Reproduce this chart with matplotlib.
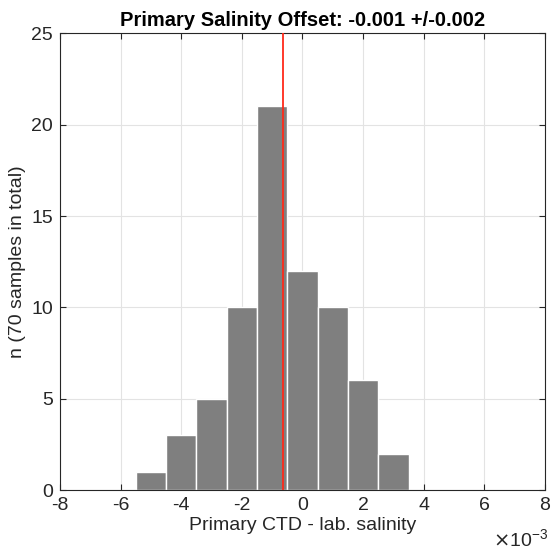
import matplotlib
matplotlib.use("Agg")
import matplotlib.pyplot as plt

plt.rcParams["font.family"] = ["Liberation Sans", "DejaVu Sans"]
plt.rcParams["axes.unicode_minus"] = False

# histogram bins (x 1e-3) and counts
bin_edges = [-5.5, -4.5, -3.5, -2.5, -1.5, -0.5, 0.5, 1.5, 2.5, 3.5]
counts = [1, 3, 5, 10, 21, 12, 10, 6, 2]
offset = -0.64  # mean offset, x 1e-3

fig = plt.figure(figsize=(5.55, 5.55), dpi=100)
ax = fig.add_axes([0.108, 0.117, 0.874, 0.823])

lefts = bin_edges[:-1]
widths = [b - a for a, b in zip(bin_edges[:-1], bin_edges[1:])]
ax.bar(lefts, counts, width=widths, align="edge", color="#7f7f7f",
       edgecolor="white", linewidth=1.0, zorder=2)
ax.axvline(offset, color="#ff2a1a", linewidth=1.3, zorder=3)

ax.set_xlim(-8, 8)
ax.set_ylim(0, 25)
ax.set_xticks(range(-8, 9, 2))
ax.set_yticks(range(0, 26, 5))
ax.grid(True, color="#e3e3e3", linewidth=0.8, zorder=0)
ax.set_axisbelow(True)
ax.tick_params(direction="in", labelsize=14, length=4, color="#262626",
               labelcolor="#262626", pad=5,
               top=True, right=True, labeltop=False, labelright=False)
for s in ax.spines.values():
    s.set_color("#262626")
    s.set_linewidth(0.8)

ax.set_xlabel("Primary CTD - lab. salinity", fontsize=14, color="#262626",
              labelpad=2)
ax.set_ylabel("n (70 samples in total)", fontsize=14, color="#262626",
              labelpad=4)
ax.set_title("Primary Salinity Offset: -0.001 +/-0.002", fontsize=14.5,
             fontweight="bold", pad=5)
fig.text(0.888, 0.008, r"$\times\mathregular{10^{-3}}$", fontsize=14,
         color="#262626", ha="left", va="bottom")

fig.savefig("out.png", dpi=100, facecolor="white")
